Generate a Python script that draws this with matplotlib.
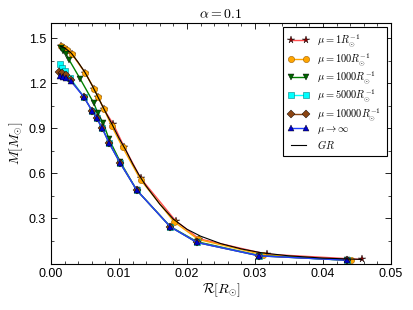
from matplotlib import pyplot as plt
from matplotlib.ticker import AutoMinorLocator

plt.rcParams['mathtext.fontset'] = 'cm'
plt.rcParams['font.family'] = ['Liberation Sans', 'DejaVu Sans']
plt.rcParams['xtick.direction'] = 'in'
plt.rcParams['ytick.direction'] = 'in'
plt.rcParams['xtick.top'] = True
plt.rcParams['ytick.right'] = True

# mu = 1 / R_sun
R_1 = [0.00142, 0.00196, 0.0023, 0.00304, 0.0050, 0.00632, 0.00696, 0.0078,
       0.00917, 0.01074, 0.0132, 0.01833, 0.02176, 0.0317, 0.0457]
M_1 = [1.447, 1.438, 1.425, 1.398, 1.272, 1.165, 1.106, 1.026,
       0.927, 0.778, 0.567, 0.284, 0.165, 0.062, 0.027]

# mu = 100 / R_sun
R_100 = [0.00142, 0.00196, 0.0023, 0.00304, 0.0050, 0.00632, 0.00696, 0.0078,
         0.00893, 0.01054, 0.01319, 0.01809, 0.02167, 0.03123, 0.04407]
M_100 = [1.447, 1.438, 1.425, 1.398, 1.272, 1.165, 1.106, 1.026,
         0.915, 0.773, 0.556, 0.278, 0.16, 0.058, 0.022]

# mu = 1000 / R_sun
R_1000 = [0.00142, 0.00172, 0.0022, 0.00269, 0.00426, 0.00632, 0.00686, 0.0077,
          0.00853, 0.01019, 0.0126, 0.01755, 0.02147, 0.03064, 0.04348]
M_1000 = [1.432, 1.416, 1.398, 1.354, 1.232, 1.066, 1.003, 0.933,
          0.828, 0.677, 0.489, 0.246, 0.145, 0.053, 0.022]

# mu = 5000 / R_sun
R_5000 = [0.00132, 0.00167, 0.00206, 0.00279, 0.0048, 0.00603, 0.00672, 0.00755,
          0.00853, 0.01015, 0.0126, 0.01755, 0.02147, 0.03064, 0.04348]
M_5000 = [1.327, 1.304, 1.282, 1.238, 1.111, 1.018, 0.967, 0.900,
          0.804, 0.671, 0.489, 0.244, 0.140, 0.051, 0.022]

# mu = 10000 / R_sun
R_10000 = [0.00123, 0.00167, 0.00216, 0.00289, 0.0048, 0.00603, 0.00672, 0.00755,
           0.00853, 0.01015, 0.0126, 0.01755, 0.02147, 0.03064, 0.04348]
M_10000 = [1.278, 1.267, 1.256, 1.222, 1.111, 1.018, 0.967, 0.900,
           0.804, 0.671, 0.489, 0.244, 0.140, 0.051, 0.022]

# mu -> infinity
R_inf = [0.00132, 0.00181, 0.00216, 0.00289, 0.0048, 0.00603, 0.00672, 0.00755,
         0.00853, 0.01015, 0.0126, 0.01755, 0.02147, 0.03064, 0.04348]
M_inf = [1.249, 1.240, 1.233, 1.216, 1.111, 1.018, 0.967, 0.900,
         0.804, 0.671, 0.489, 0.244, 0.140, 0.051, 0.022]

# GR
R_GR = [0.0014, 0.002, 0.003, 0.004, 0.005, 0.006, 0.007, 0.008, 0.009, 0.010,
        0.011, 0.012, 0.013, 0.014, 0.016, 0.018, 0.020, 0.022, 0.025, 0.028,
        0.031, 0.035, 0.040, 0.0457]
M_GR = [1.447, 1.437, 1.400, 1.340, 1.272, 1.190, 1.100, 1.010, 0.925, 0.835,
        0.755, 0.665, 0.585, 0.515, 0.395, 0.295, 0.228, 0.182, 0.132, 0.097,
        0.071, 0.051, 0.036, 0.027]

fig = plt.figure(figsize=(4.13, 3.10), dpi=100)
ax = fig.add_axes([0.1235, 0.15, 0.8232, 0.775])

lw = 1.0
ms = 4.5
ax.plot(R_1, M_1, color='#ff5050', lw=lw, marker='*', ms=ms + 1, mfc='#8b0000', mec='k', mew=0.3,
        label=r'$\mu=1R_{\odot}^{-1}$')
ax.plot(R_100, M_100, color='orange', lw=lw, marker='o', ms=ms, mfc='orange', mec='#a06000', mew=0.4,
        label=r'$\mu=100R_{\odot}^{-1}$')
ax.plot(R_1000, M_1000, color='green', lw=lw, marker='v', ms=ms, mfc='darkgreen', mec='k', mew=0.3,
        label=r'$\mu=1000R_{\odot}^{-1}$')
ax.plot(R_5000, M_5000, color='cyan', lw=lw, marker='s', ms=ms, mfc='cyan', mec='#008080', mew=0.4,
        label=r'$\mu=5000R_{\odot}^{-1}$')
ax.plot(R_10000, M_10000, color='saddlebrown', lw=lw, marker='D', ms=ms - 0.5, mfc='saddlebrown', mec='k', mew=0.3,
        label=r'$\mu=10000R_{\odot}^{-1}$')
ax.plot(R_inf, M_inf, color='#1f3fff', lw=lw, marker='^', ms=ms, mfc='mediumblue', mec='k', mew=0.3,
        label=r'$\mu\to\infty$')
ax.plot(R_GR, M_GR, color='k', lw=0.8, label=r'$GR$')

ax.set_xlim(0, 0.05)
ax.set_ylim(0, 1.6)
ax.set_xticks([0.0, 0.01, 0.02, 0.03, 0.04, 0.05])
ax.set_xticklabels(['0.00', '0.01', '0.02', '0.03', '0.04', '0.05'])
ax.set_yticks([0.3, 0.6, 0.9, 1.2, 1.5])
ax.xaxis.set_minor_locator(AutoMinorLocator(5))
ax.yaxis.set_minor_locator(AutoMinorLocator(2))
ax.tick_params(labelsize=9, length=4, width=0.6)
ax.tick_params(which='minor', length=2, width=0.5)

ax.set_xlabel(r'$\mathcal{R}[R_{\odot}]$', fontsize=10, labelpad=1)
ax.set_ylabel(r'$M[M_{\odot}]$', fontsize=10, labelpad=3)
ax.set_title(r'$\alpha=0.1$', fontsize=10, pad=4)

leg = ax.legend(loc='upper right', fontsize=7.5, numpoints=2, fancybox=False, framealpha=1,
                edgecolor='k', handlelength=2.0, labelspacing=0.15, borderpad=0.5,
                borderaxespad=0.4)
leg.get_frame().set_linewidth(0.8)

plt.savefig('out.png', dpi=100)
